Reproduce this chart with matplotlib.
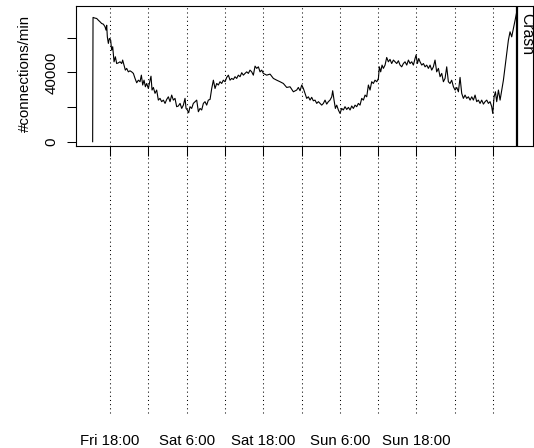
import numpy as np
import matplotlib
matplotlib.use("Agg")
import matplotlib.pyplot as plt
import matplotlib.transforms as mtransforms

plt.rcParams['font.family'] = ['Liberation Sans', 'DejaVu Sans']

# hours since Fri 18:00, connections per minute (thousands)
hours = [-2.72, -2.66, -2.35, -2.09, -1.83, -1.57, -1.31, -1.04, -0.78, -0.63,
         -0.52, -0.42, -0.26, -0.10, 0.10, 0.26, 0.42, 0.63, 0.84, 1.04,
         1.31, 1.57, 1.83, 1.98, 2.19, 2.40, 2.61, 2.87, 3.13, 3.39,
         3.66, 3.92, 4.18, 4.44, 4.70, 4.91, 5.12, 5.33, 5.54, 5.74,
         6.01, 6.27, 6.42, 6.58, 6.79, 7.05, 7.31, 7.57, 7.83, 8.09,
         8.36, 8.62, 8.88, 9.14, 9.40, 9.66, 9.92, 10.18, 10.44, 10.70,
         10.97, 11.23, 11.49, 11.75, 11.91, 12.11, 12.32, 12.53, 12.79, 13.05,
         13.32, 13.58, 13.84, 14.10, 14.36, 14.62, 14.88, 15.14, 15.40, 15.67,
         15.93, 16.19, 16.45, 16.71, 16.97, 17.23, 17.49, 17.75, 18.02, 18.28,
         18.54, 18.80, 19.06, 19.32, 19.58, 19.84, 20.10, 20.37, 20.63, 20.89,
         21.15, 21.41, 21.67, 21.93, 22.19, 22.45, 22.72, 22.98, 23.24, 23.50,
         23.76, 24.02, 24.54, 25.07, 25.59, 26.11, 26.63, 27.15, 27.68, 28.20,
         28.72, 29.24, 29.50, 29.77, 30.03, 30.29, 30.55, 30.81, 31.07, 31.33,
         31.59, 31.85, 32.11, 32.38, 32.64, 32.90, 33.16, 33.42, 33.68, 33.94,
         34.20, 34.46, 34.73, 34.88, 35.09, 35.30, 35.51, 35.77, 36.03, 36.29,
         36.55, 36.81, 37.08, 37.34, 37.60, 37.86, 38.12, 38.38, 38.64, 38.90,
         39.16, 39.43, 39.69, 39.95, 40.21, 40.47, 40.73, 40.99, 41.25, 41.51,
         41.78, 42.04, 42.19, 42.40, 42.61, 42.82, 43.08, 43.34, 43.60, 43.86,
         44.12, 44.39, 44.65, 44.91, 45.17, 45.43, 45.69, 45.95, 46.21, 46.48,
         46.74, 47.00, 47.26, 47.52, 47.78, 47.94, 48.15, 48.36, 48.56, 48.83,
         49.09, 49.35, 49.61, 49.87, 50.13, 50.39, 50.65, 50.91, 51.17, 51.44,
         51.70, 51.96, 52.22, 52.48, 52.74, 53.00, 53.26, 53.52, 53.79, 54.05,
         54.31, 54.57, 54.83, 55.09, 55.35, 55.61, 55.87, 56.14, 56.40, 56.66,
         56.92, 57.18, 57.44, 57.70, 57.96, 58.22, 58.49, 58.75, 59.01, 59.27,
         59.53, 59.79, 59.95, 60.16, 60.37, 60.57, 60.84, 61.10, 61.36, 61.62,
         61.88, 62.14, 62.40, 62.66, 62.92, 63.19, 63.45, 63.71]

conn_k = [0.0, 71.7, 71.3, 71.1, 70.1, 69.2, 68.2, 67.8, 66.3, 64.4,
          67.2, 60.5, 56.7, 59.6, 58.6, 52.8, 54.8, 46.1, 49.0, 45.1,
          45.5, 46.1, 45.1, 47.1, 44.2, 41.3, 42.3, 40.3, 40.9, 40.3,
          39.4, 36.5, 34.0, 35.5, 34.6, 38.4, 32.7, 35.5, 31.7, 33.6,
          30.7, 35.5, 37.8, 29.8, 31.3, 27.9, 29.8, 24.0, 25.0, 23.1,
          24.0, 22.1, 24.4, 25.9, 23.1, 26.9, 24.0, 25.0, 20.2, 20.6,
          22.1, 19.2, 21.1, 25.0, 19.2, 18.3, 16.7, 20.2, 19.2, 22.1,
          23.1, 24.0, 17.3, 19.2, 18.3, 22.1, 23.1, 21.1, 24.0, 24.4,
          30.7, 35.5, 30.7, 33.6, 32.7, 34.6, 33.6, 35.5, 34.6, 37.1,
          38.4, 35.5, 36.5, 35.9, 37.5, 36.5, 38.4, 37.5, 39.8, 38.4,
          39.4, 40.3, 39.4, 41.3, 40.3, 38.4, 43.6, 42.3, 43.2, 40.3,
          41.3, 39.4, 38.4, 39.0, 36.5, 35.5, 34.6, 33.6, 31.3, 31.7,
          28.8, 29.8, 31.3, 29.4, 32.7, 30.7, 27.9, 25.0, 25.9, 24.0,
          25.6, 23.6, 24.0, 22.1, 23.1, 22.1, 21.1, 22.1, 24.0, 21.7,
          23.1, 24.0, 25.9, 29.4, 24.0, 19.2, 21.1, 18.3, 16.3, 19.2,
          18.3, 20.2, 18.6, 19.8, 18.3, 20.6, 19.2, 21.1, 20.2, 22.1,
          21.1, 25.0, 24.0, 26.9, 25.9, 32.7, 29.8, 34.6, 33.6, 35.5,
          34.6, 36.5, 43.2, 40.3, 44.2, 42.3, 44.2, 48.6, 46.1, 47.5,
          45.1, 47.1, 46.1, 45.1, 46.7, 44.2, 43.2, 45.1, 46.1, 44.2,
          47.1, 45.1, 46.1, 44.2, 48.0, 50.0, 45.1, 48.0, 46.1, 44.2,
          45.1, 43.2, 44.2, 42.3, 44.2, 41.3, 43.2, 47.1, 40.3, 42.3,
          37.5, 39.4, 34.6, 36.5, 43.2, 34.6, 33.6, 35.5, 31.7, 29.8,
          31.3, 28.8, 37.1, 27.9, 25.0, 26.9, 25.0, 25.9, 24.0, 25.9,
          24.0, 26.9, 23.1, 24.0, 22.1, 24.0, 21.7, 23.1, 24.0, 22.1,
          23.1, 20.2, 16.3, 25.9, 28.8, 23.1, 29.8, 24.0, 29.8, 35.5,
          43.2, 50.9, 58.6, 63.4, 60.5, 65.3, 70.1, 74.9]

grid_hours = [0, 6, 12, 18, 24, 30, 36, 42, 48, 54, 60]
label_hours = [0, 12, 24, 36, 48]
labels = ["Fri 18:00", "Sat 6:00", "Sat 18:00", "Sun 6:00", "Sun 18:00"]
crash_hour = 63.81

fig = plt.figure(figsize=(5.34, 4.48), dpi=100)
ax = fig.add_axes([0.1423, 0.6741, 0.856, 0.3125])

ax.plot(hours, np.array(conn_k) * 1000, color='black', lw=0.8)
ax.set_xlim(-5.33, 66.27)
ax.set_ylim(-2480, 78290)

# dotted guide lines every 6h, running down past the box
for h in grid_hours:
    ax.axvline(h, ymin=-1.907, ymax=1, color='black', lw=0.75,
               linestyle=(0, (1, 3)), clip_on=False)

ax.axvline(crash_hour, color='black', lw=1.6)
ax.text(65.25, 62100, "Crash", rotation=-90, ha='center', va='center', fontsize=11.3)

ax.set_xticks(grid_hours)
ax.set_xticklabels([])
ax.tick_params(axis='x', direction='out', length=7, width=0.75)

ax.set_yticks([0, 20000, 40000, 60000])
ax.set_yticklabels(["0", "", "40000", ""], rotation=90, va='center', fontsize=10.8)
ax.tick_params(axis='y', direction='out', length=6.5, width=0.75, pad=6)

for s in ax.spines.values():
    s.set_linewidth(0.8)

trans = mtransforms.blended_transform_factory(ax.transData, ax.transAxes)
for h, lab in zip(label_hours, labels):
    ax.text(h, -2.107, lab, transform=trans, ha='center', va='center', fontsize=10.8)

fig.text(25 / 534, 1 - 73 / 448, "#connections/min", rotation=90,
         ha='center', va='center', fontsize=10.8)

fig.savefig("out.png", dpi=100)
